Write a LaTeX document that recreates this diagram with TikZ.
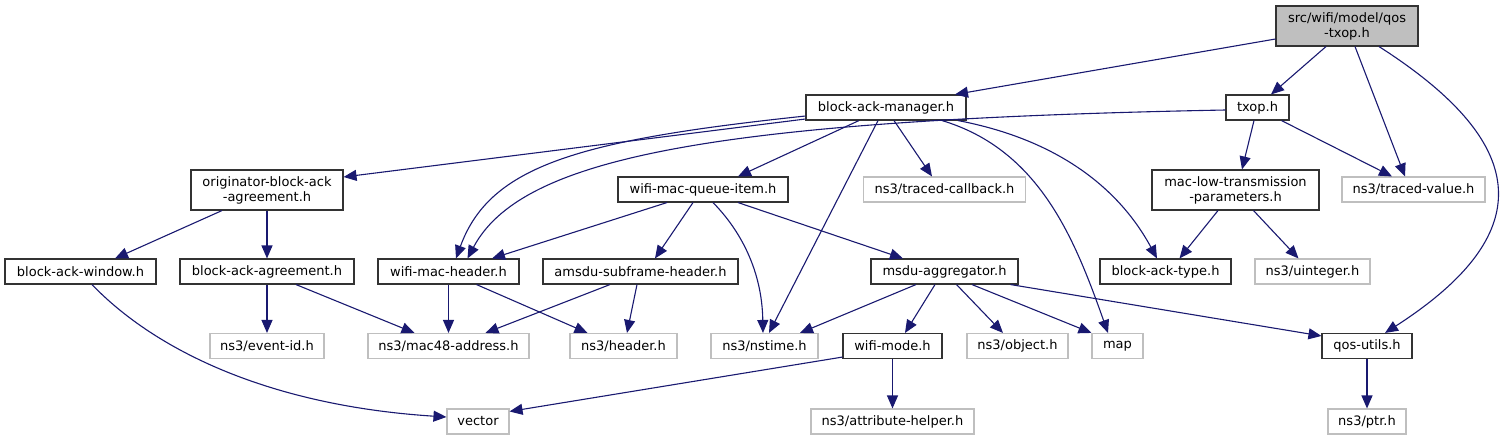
\documentclass[tikz,border=0pt]{standalone}
\usepackage{fontspec}
\setmainfont{DejaVu Sans}
\usetikzlibrary{arrows.meta}
\definecolor{edgeblue}{HTML}{191970}
\definecolor{extgray}{HTML}{BFBFBF}

\begin{document}
\begin{tikzpicture}[x=1pt, y=-1pt, every node/.style={font=\fontsize{13}{15}\selectfont}]
\tikzset{file/.style={draw=black!80, line width=1.1pt, inner sep=0pt, align=center, fill=white, minimum height=25pt}}
\tikzset{ext/.style={file, draw=extgray}}
\tikzset{dep/.style={-{Triangle[length=13pt,width=11pt]}, color=edgeblue, line width=1.1pt}}
\useasboundingbox (0,0) rectangle (1508,440);
\node[file, fill=extgray, minimum width=142pt, minimum height=40pt] (root) at (1347,26) {src/wifi/model/qos\\-txop.h};
\node[file, minimum width=160pt] (bam) at (886,107.5) {block-ack-manager.h};
\node[file, minimum width=63pt] (txop) at (1257.5,107.5) {txop.h};
\node[file, minimum width=152pt, minimum height=40pt] (orig) at (267,190) {originator-block-ack\\-agreement.h};
\node[file, minimum width=170pt] (wmqi) at (703,189.5) {wifi-mac-queue-item.h};
\node[ext, minimum width=162pt] (tcb) at (944.5,189.5) {ns3/traced-callback.h};
\node[file, minimum width=167pt, minimum height=40pt] (mltp) at (1235.5,190) {mac-low-transmission\\-parameters.h};
\node[ext, minimum width=143pt] (tval) at (1413.5,189.5) {ns3/traced-value.h};
\node[file, minimum width=151pt] (baw) at (80.5,271.5) {block-ack-window.h};
\node[file, minimum width=174pt] (baa) at (267,271.5) {block-ack-agreement.h};
\node[file, minimum width=141pt] (wmh) at (448.5,271.5) {wifi-mac-header.h};
\node[file, minimum width=195pt] (amsdu) at (640.5,271.5) {amsdu-subframe-header.h};
\node[file, minimum width=147pt] (msdu) at (944.5,271.5) {msdu-aggregator.h};
\node[file, minimum width=131pt] (bat) at (1165.5,271.5) {block-ack-type.h};
\node[ext, minimum width=115pt] (uint) at (1312.5,271.5) {ns3/uinteger.h};
\node[ext, minimum width=114pt] (eid) at (267,346) {ns3/event-id.h};
\node[ext, minimum width=161pt] (mac48) at (448.5,346) {ns3/mac48-address.h};
\node[ext, minimum width=107pt] (hdr) at (623.5,346) {ns3/header.h};
\node[ext, minimum width=107pt] (nstime) at (764.5,346) {ns3/nstime.h};
\node[file, minimum width=99pt] (wmode) at (892.5,346) {wifi-mode.h};
\node[ext, minimum width=101pt] (obj) at (1017.5,346) {ns3/object.h};
\node[ext, minimum width=51pt] (map) at (1117.5,346) {map};
\node[file, minimum width=90pt] (qos) at (1367,346) {qos-utils.h};
\node[ext, minimum width=62pt] (vec) at (478,421.5) {vector};
\node[ext, minimum width=163pt] (attr) at (892.5,421.5) {ns3/attribute-helper.h};
\node[ext, minimum width=78pt] (ptr) at (1367,421.5) {ns3/ptr.h};
\draw[dep] ([yshift=-13pt]root.west) -- ([xshift=69pt]bam.north);
\draw[dep] ([xshift=-21pt]root.south) -- ([xshift=13.5pt]txop.north);
\draw[dep] ([xshift=8pt]root.south) -- ([xshift=-8.5pt]tval.north);
\draw[dep] ([xshift=32pt]root.south) .. controls (1525,140) and (1545,230) .. ([xshift=18pt]qos.north);
\draw[dep] ([yshift=-11.5pt]bam.west) -- ([yshift=13pt]orig.east);
\draw[dep] ([yshift=-8.5pt]bam.west) .. controls (580,140) and (490,165) .. ([xshift=7.5pt]wmh.north);
\draw[dep] ([xshift=-27pt]bam.south) -- ([xshift=35pt]wmqi.north);
\draw[dep] ([xshift=-8pt]bam.south) -- ([xshift=4.5pt]nstime.north);
\draw[dep] ([xshift=8pt]bam.south) -- ([xshift=-12.5pt]tcb.north);
\draw[dep] ([xshift=56pt]bam.south) .. controls (1040,150) and (1075,240) .. ([xshift=-9.5pt]map.north);
\draw[dep] ([xshift=72pt]bam.south) .. controls (1060,140) and (1120,190) .. ([xshift=-8.5pt]bat.north);
\draw[dep] ([yshift=-2.5pt]txop.west) .. controls (700,120) and (520,160) .. ([xshift=19pt]wmh.north);
\draw[dep] ([xshift=-3.5pt]txop.south) -- ([xshift=6.5pt]mltp.north);
\draw[dep] ([xshift=24pt]txop.south) -- ([xshift=-21.5pt]tval.north);
\draw[dep] ([xshift=-45pt]orig.south) -- ([xshift=34.5pt]baw.north);
\draw[dep] (orig.south) -- (baa.north);
\draw[dep] ([xshift=-36pt]wmqi.south) -- ([xshift=43.5pt]wmh.north);
\draw[dep] ([xshift=-10pt]wmqi.south) -- ([xshift=14.5pt]amsdu.north);
\draw[dep] ([xshift=10pt]wmqi.south) .. controls (740,230) and (762,270) .. ([xshift=-1.5pt]nstime.north);
\draw[dep] ([xshift=35pt]wmqi.south) -- ([xshift=-41.5pt]msdu.north);
\draw[dep] ([xshift=-17.5pt]mltp.south) -- ([xshift=14pt]bat.north);
\draw[dep] ([xshift=18pt]mltp.south) -- ([xshift=-14pt]uint.north);
\draw[dep] ([xshift=11.5pt]baw.south) .. controls (150,345) and (260,405) .. ([yshift=4.5pt]vec.west);
\draw[dep] (baa.south) -- (eid.north);
\draw[dep] ([xshift=29pt]baa.south) -- ([xshift=-34pt]mac48.north);
\draw[dep] (wmh.south) -- (mac48.north);
\draw[dep] ([xshift=28pt]wmh.south) -- ([xshift=-36pt]hdr.north);
\draw[dep] ([xshift=-30.5pt]amsdu.south) -- ([xshift=37pt]mac48.north);
\draw[dep] ([xshift=-3.5pt]amsdu.south) -- ([xshift=3.5pt]hdr.north);
\draw[dep] ([xshift=-28.5pt]msdu.south) -- ([xshift=35.5pt]nstime.north);
\draw[dep] ([xshift=-9.5pt]msdu.south) -- ([xshift=12.5pt]wmode.north);
\draw[dep] ([xshift=12pt]msdu.south) -- ([xshift=-14.5pt]obj.north);
\draw[dep] ([xshift=27.5pt]msdu.south) -- (map.north west);
\draw[dep] ([xshift=-8pt]msdu.south east) -- ([yshift=-3pt]qos.north west);
\draw[dep] ([yshift=2pt]wmode.south west) -- ([yshift=-3pt]vec.north east);
\draw[dep] (wmode.south) -- (attr.north);
\draw[dep] (qos.south) -- (ptr.north);
\end{tikzpicture}
\end{document}
